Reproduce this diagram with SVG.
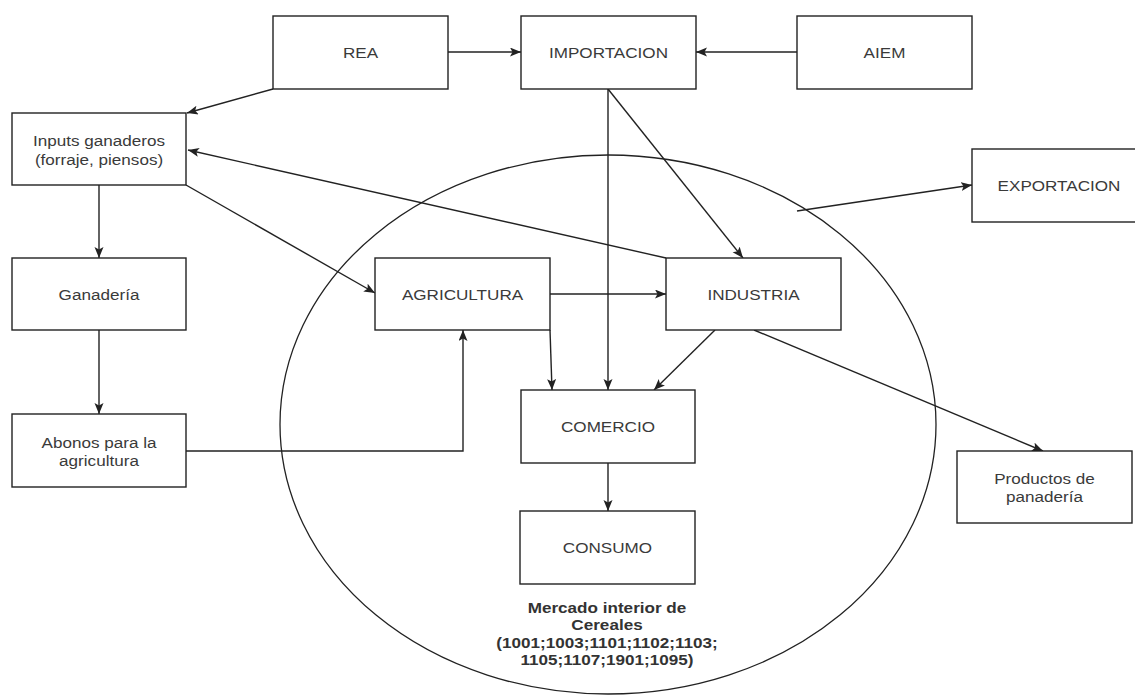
<svg xmlns="http://www.w3.org/2000/svg" width="1135" height="695" viewBox="0 0 1135 695">
<defs>
<marker id="arr" markerUnits="userSpaceOnUse" markerWidth="12" markerHeight="10" refX="11" refY="4.5" orient="auto">
<path d="M0,0 L11,4.5 L0,9 L2.5,4.5 Z" fill="#222"/>
</marker>
<style>
.box{fill:#fff;stroke:#222;stroke-width:1.4}
.t{font-family:"Liberation Sans",Arial,sans-serif;font-size:15px;fill:#3a3a3a;text-anchor:middle}
.b{font-family:"Liberation Sans",Arial,sans-serif;font-size:15px;font-weight:bold;fill:#333;text-anchor:middle}
.c{fill:none;stroke:#222;stroke-width:1.4;marker-end:url(#arr)}
.e{fill:none;stroke:#222;stroke-width:1.3}
</style>
</defs>
<rect width="1135" height="695" fill="#fff"/>
<g id="mercado">
<ellipse class="e" cx="608" cy="424.5" rx="328" ry="269.5"/>
<text class="b" transform="translate(607,613) scale(1.14,1)">Mercado interior de</text>
<text class="b" transform="translate(607,630) scale(1.14,1)">Cereales</text>
<text class="b" transform="translate(607,648) scale(1.14,1)">(1001;1003;1101;1102;1103;</text>
<text class="b" transform="translate(607,665) scale(1.14,1)">1105;1107;1901;1095)</text>
</g>
<g id="connectors">
<line class="c" x1="448" y1="52" x2="521" y2="52"/>
<line class="c" x1="797" y1="52" x2="696" y2="52"/>
<line class="c" x1="273" y1="89" x2="187" y2="113"/>
<line class="c" x1="666" y1="258" x2="188" y2="150"/>
<line class="c" x1="186" y1="185" x2="375" y2="293"/>
<line class="c" x1="99" y1="185" x2="99" y2="258"/>
<line class="c" x1="99" y1="330" x2="99" y2="414"/>
<polyline class="c" points="186,451 463,451 463,330"/>
<line class="c" x1="550" y1="294" x2="666" y2="294"/>
<line class="c" x1="550" y1="330" x2="552" y2="390"/>
<line class="c" x1="608" y1="89" x2="608" y2="390"/>
<line class="c" x1="608" y1="89" x2="743" y2="258"/>
<line class="c" x1="715" y1="330" x2="654" y2="390"/>
<line class="c" x1="754" y1="330" x2="1043" y2="451"/>
<line class="c" x1="608" y1="463" x2="608" y2="511"/>
<line class="c" x1="797" y1="211" x2="972" y2="185"/>
</g>
<g id="rea"><rect class="box" x="273" y="16" width="175" height="73"/><text class="t" transform="translate(360.5,57.5) scale(1.14,1)">REA</text></g>
<g id="importacion"><rect class="box" x="521" y="16" width="175" height="73"/><text class="t" transform="translate(608.5,57.5) scale(1.14,1)">IMPORTACION</text></g>
<g id="aiem"><rect class="box" x="797" y="16" width="175" height="73"/><text class="t" transform="translate(884.5,57.5) scale(1.14,1)">AIEM</text></g>
<g id="exportacion"><rect class="box" x="972" y="149" width="175" height="73"/><text class="t" transform="translate(1059,190.5) scale(1.14,1)">EXPORTACION</text></g>
<g id="inputs"><rect class="box" x="12" y="113" width="174" height="72"/><text class="t" transform="translate(99,145.5) scale(1.14,1)">Inputs ganaderos</text><text class="t" transform="translate(99,164.5) scale(1.14,1)">(forraje, piensos)</text></g>
<g id="ganaderia"><rect class="box" x="12" y="258" width="174" height="72"/><text class="t" transform="translate(99,299.5) scale(1.14,1)">Ganadería</text></g>
<g id="abonos"><rect class="box" x="12" y="414" width="174" height="73"/><text class="t" transform="translate(99,447.5) scale(1.14,1)">Abonos para la</text><text class="t" transform="translate(99,466) scale(1.14,1)">agricultura</text></g>
<g id="agricultura"><rect class="box" x="375" y="258" width="175" height="72"/><text class="t" transform="translate(462.5,299.5) scale(1.14,1)">AGRICULTURA</text></g>
<g id="industria"><rect class="box" x="666" y="258" width="175" height="72"/><text class="t" transform="translate(753.5,299.5) scale(1.14,1)">INDUSTRIA</text></g>
<g id="comercio"><rect class="box" x="521" y="390" width="174" height="73"/><text class="t" transform="translate(608,431.5) scale(1.14,1)">COMERCIO</text></g>
<g id="consumo"><rect class="box" x="520" y="511" width="175" height="73"/><text class="t" transform="translate(607.5,552.5) scale(1.14,1)">CONSUMO</text></g>
<g id="productos"><rect class="box" x="957" y="451" width="175" height="72"/><text class="t" transform="translate(1044.5,483.5) scale(1.14,1)">Productos de</text><text class="t" transform="translate(1044.5,501.5) scale(1.14,1)">panadería</text></g>
</svg>
